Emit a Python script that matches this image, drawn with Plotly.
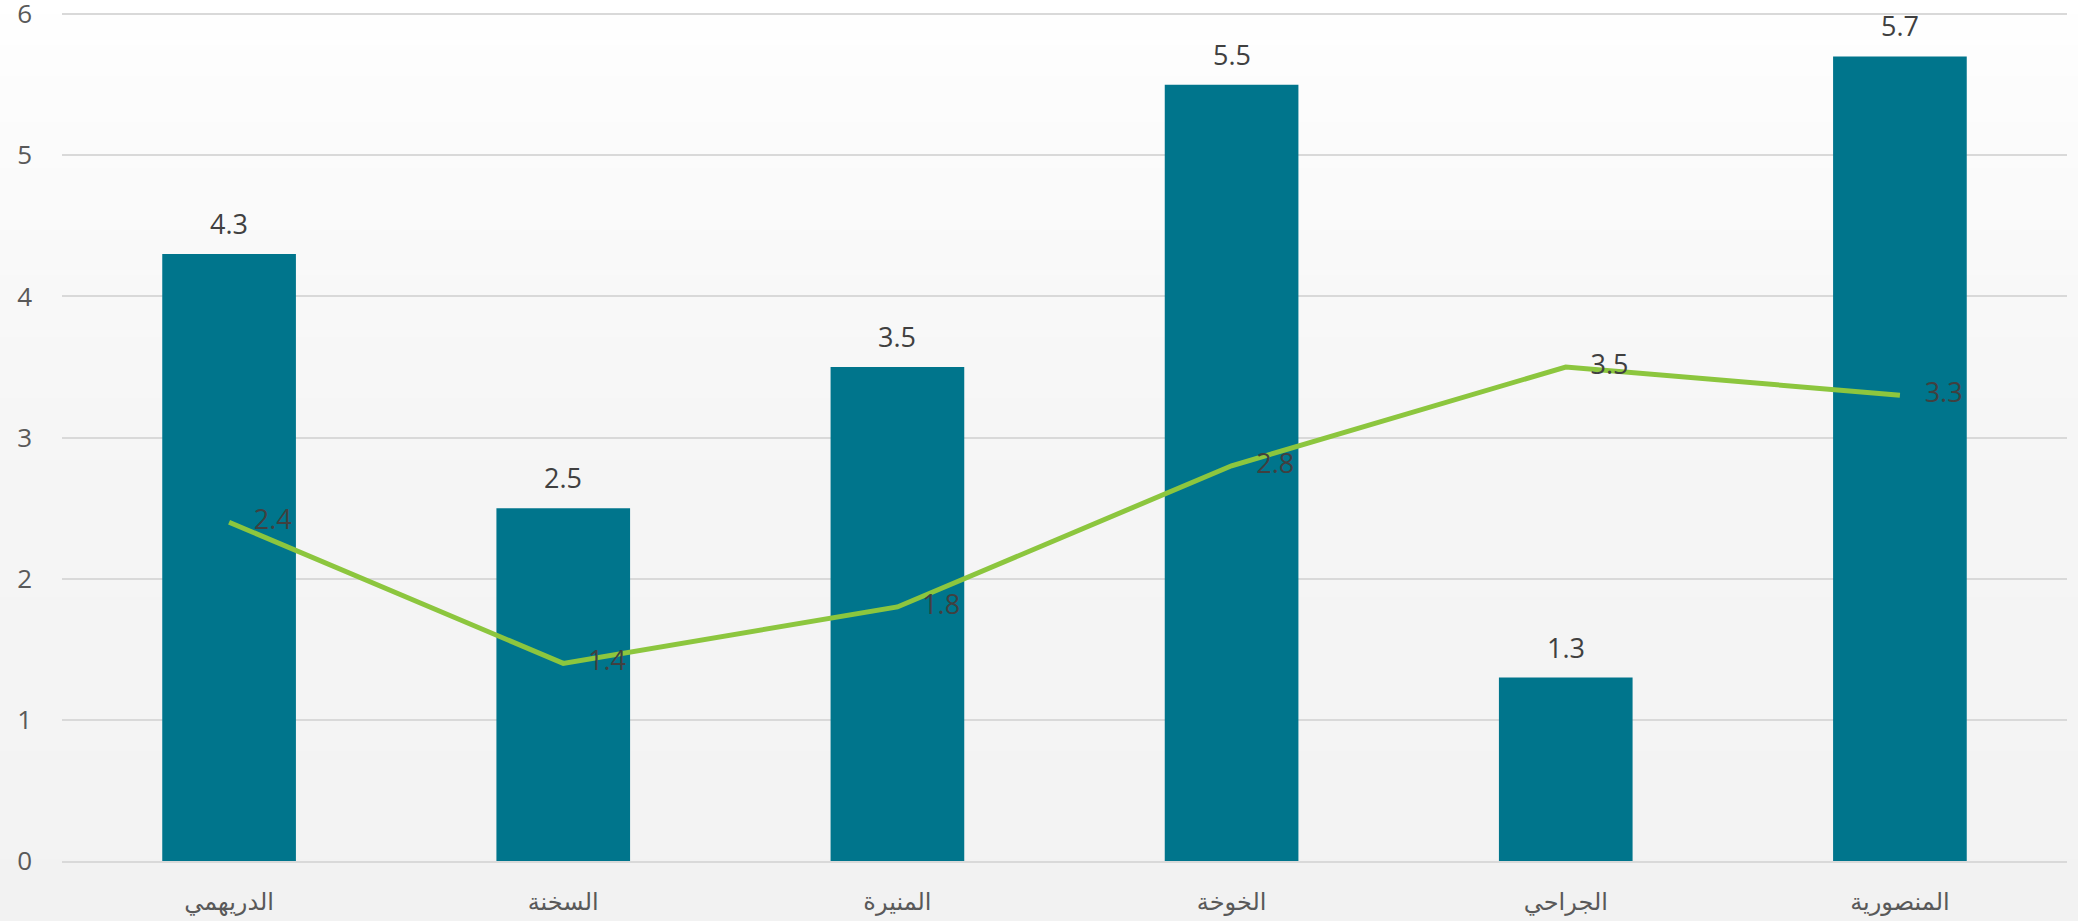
import plotly.graph_objects as go
import numpy as np

categories = ["الدريهمي", "السخنة", "المنيرة", "الخوخة", "الجراحي", "المنصورية"]
bar_values = [4.3, 2.5, 3.5, 5.5, 1.3, 5.7]
line_values = [2.4, 1.4, 1.8, 2.8, 3.5, 3.3]
y_ticks = [0, 1, 2, 3, 4, 5, 6]

W, H = 2078, 921
ML, MR, MT, MB = 62, 11, 12, 60
Y_MAX = 6.015

fig = go.Figure()
fig.add_trace(go.Bar(
    x=categories, y=bar_values, marker=dict(color="#00758C", line=dict(width=0)),
    hoverinfo="skip", showlegend=False))
fig.add_trace(go.Scatter(
    x=categories, y=line_values, mode="lines+markers+text",
    line=dict(color="#8CC63E", width=5),
    marker=dict(size=38, color="rgba(0,0,0,0)", line=dict(width=0)),
    text=[f"{v:.1f}" for v in line_values], textposition="middle right",
    textfont=dict(family="Open Sans", size=27, color="#404040"),
    cliponaxis=False, showlegend=False, hoverinfo="skip"))

annotations = []
for c, v in zip(categories, bar_values):
    annotations.append(dict(x=c, y=v, text=f"{v:.1f}", showarrow=False,
                            yanchor="bottom", yshift=10,
                            font=dict(family="Open Sans", size=27, color="#404040")))

# background gradient (whole page)
ph = H - MT - MB
pw = W - ML - MR
stops_px = [0, 100, 300, 500, 700, 921]
stops_v = [255, 252, 248, 245, 244, 242]
shapes = []
nb = 60
for i in range(nb):
    p0 = i * H / nb
    p1 = (i + 1) * H / nb
    v = int(round(np.interp((p0 + p1) / 2, stops_px, stops_v)))
    col = f"rgb({v},{v},{v})"
    shapes.append(dict(type="rect", xref="paper", yref="paper",
                       x0=-ML / pw - 0.01, x1=1 + MR / pw + 0.01,
                       y0=(H - MB - p1) / ph, y1=(H - MB - p0) / ph + 0.001,
                       fillcolor=col, line=dict(width=0), layer="below"))

fig.update_layout(
    width=W, height=H,
    margin=dict(l=ML, r=MR, t=MT, b=MB, pad=0, autoexpand=False),
    paper_bgcolor="#f2f2f2", plot_bgcolor="rgba(0,0,0,0)",
    bargap=0.6,
    shapes=shapes, annotations=annotations,
    xaxis=dict(showgrid=False, showline=True, linecolor="#d9d9d9", linewidth=2,
               ticks="", tickfont=dict(family="DejaVu Sans", size=24, color="#595959"),
               ticklabelstandoff=18, fixedrange=True, automargin=False),
    yaxis=dict(range=[0, Y_MAX], tickvals=y_ticks, showgrid=True, gridcolor="#d9d9d9",
               gridwidth=2, zeroline=False, showline=False,
               tickfont=dict(family="Open Sans", size=26, color="#595959"),
               ticklabelstandoff=29, ticklabeloverflow="allow",
               fixedrange=True, automargin=False),
)

fig.write_html("out.html", config={"displayModeBar": False},
               post_script="document.body.style.margin='0';document.body.style.overflow='hidden';")
